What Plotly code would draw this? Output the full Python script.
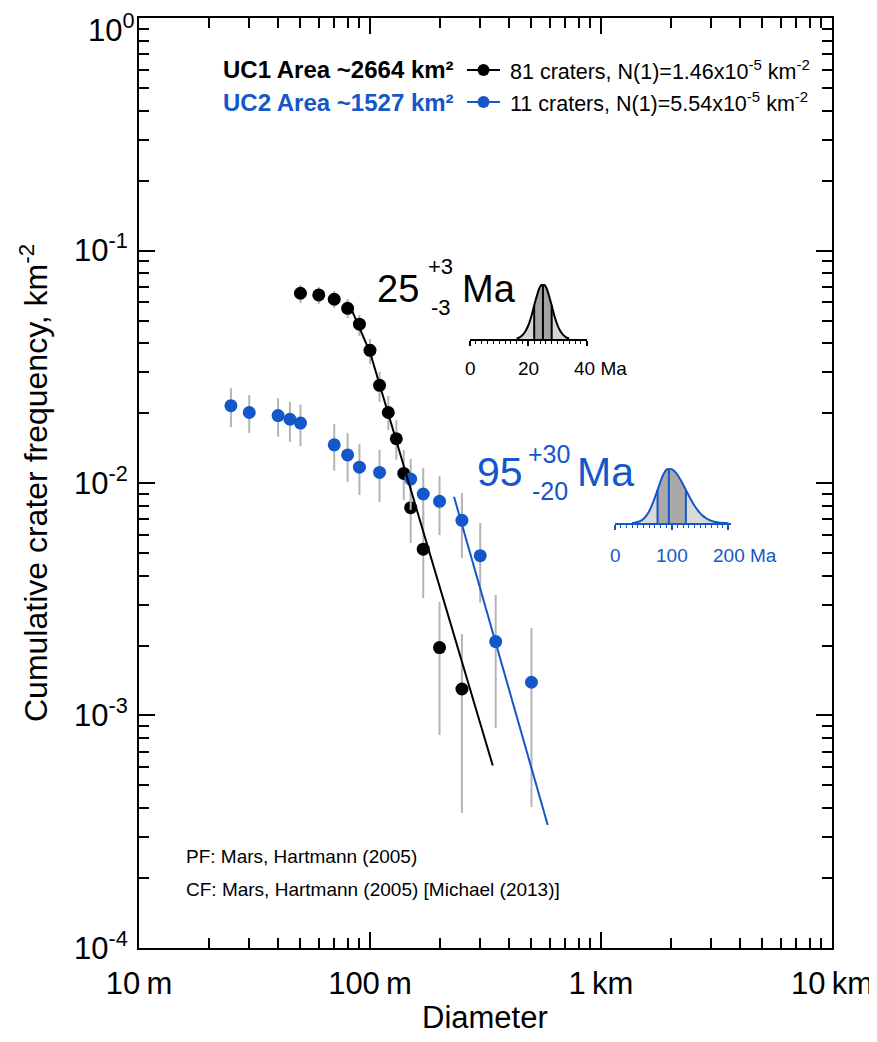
import plotly.graph_objects as go

# ---------------- data ----------------
# UC1 (black): diameter [km], cumulative frequency [km^-2], error bar upper/lower
uc1_d = [0.05, 0.06, 0.07, 0.08, 0.09, 0.10, 0.11, 0.12, 0.13, 0.14, 0.15, 0.17, 0.20, 0.25]
uc1_n = [0.0655, 0.0644, 0.0617, 0.0564, 0.0482, 0.0372, 0.0263, 0.0201, 0.0155, 0.0110,
         0.00783, 0.00519, 0.00196, 0.00130]
uc1_hi = [0.0711, 0.0697, 0.0669, 0.0619, 0.0528, 0.0416, 0.0300, 0.0237, 0.0187, 0.0139,
          0.0103, 0.00750, 0.00308, 0.00224]
uc1_lo = [0.0594, 0.0589, 0.0566, 0.0513, 0.0429, 0.0325, 0.0223, 0.0169, 0.0126, 0.00845,
          0.00552, 0.00320, 0.000824, 0.000381]

# UC2 (blue)
uc2_d = [0.025, 0.03, 0.04, 0.045, 0.05, 0.07, 0.08, 0.09, 0.11, 0.15, 0.17, 0.20, 0.25, 0.30, 0.35, 0.50]
uc2_n = [0.0215, 0.0201, 0.0195, 0.0188, 0.0181, 0.0146, 0.0132, 0.0117, 0.0111, 0.0104,
         0.00897, 0.00834, 0.00691, 0.00487, 0.00208, 0.00139]
uc2_hi = [0.0256, 0.0239, 0.0232, 0.0223, 0.0217, 0.0179, 0.0164, 0.0147, 0.0139, 0.0127,
          0.0116, 0.0107, 0.00906, 0.00673, 0.00330, 0.00238]
uc2_lo = [0.0174, 0.0164, 0.0158, 0.0150, 0.0144, 0.0113, 0.0101, 0.00888, 0.00829, 0.00766,
          0.00640, 0.00597, 0.00476, 0.00305, 0.000884, 0.000404]

# isochron fits
uc1_fit_d = [0.082, 0.10, 0.34]
uc1_fit_n = [0.0577, 0.0365, 0.000609]
uc2_fit_d = [0.231, 0.588]
uc2_fit_n = [0.00873, 0.000338]

# age probability curves (relative)
uc1_age = [16, 17, 18, 19, 20, 21, 22, 23, 24, 25, 26, 27, 28, 29, 30, 31, 32, 33, 34]
uc1_pdf = [0.01, 0.03, 0.07, 0.14, 0.25, 0.41, 0.61, 0.80, 0.95, 1.0, 0.95, 0.80, 0.61, 0.41,
           0.25, 0.14, 0.07, 0.03, 0.01]
uc1_marks = [22, 25, 28]
uc1_marks_h = [0.61, 1.0, 0.61]

uc2_age = [30, 35, 40, 45, 50, 55, 60, 65, 70, 75, 80, 85, 90, 95, 100, 105, 110, 115, 120, 125,
           130, 135, 140, 145, 150, 155, 160, 165, 170, 175, 180, 185, 190, 195, 200]
uc2_pdf = [0.005, 0.011, 0.023, 0.044, 0.08, 0.135, 0.216, 0.325, 0.458, 0.607, 0.755, 0.882,
           0.969, 1.0, 0.986, 0.946, 0.882, 0.80, 0.707, 0.607, 0.506, 0.411, 0.325, 0.249,
           0.186, 0.135, 0.096, 0.066, 0.044, 0.029, 0.018, 0.011, 0.007, 0.004, 0.002]
uc2_marks = [75, 95, 125]
uc2_marks_h = [0.607, 1.0, 0.607]

x_tickvals = [0.01, 0.1, 1, 10]
x_ticktext = ["10\u2009m", "100\u2009m", "1\u2009km", "10\u2009km"]
y_tickvals = [1e-4, 1e-3, 1e-2, 1e-1, 1]
y_ticktext = ["10<sup>-4</sup>", "10<sup>-3</sup>", "10<sup>-2</sup>", "10<sup>-1</sup>", "10<sup>0</sup>"]

uc1_inset_ticks = [0, 20, 40]
uc1_inset_text = ["0", "20", "40 Ma"]
uc2_inset_ticks = [0, 100, 200]
uc2_inset_text = ["0", "100", "200 Ma"]

BLUE = "#1457C8"
GRAY = "#b4b4b4"
FONT = "Liberation Sans, Arial, Helvetica, sans-serif"

# page geometry (the html body adds an 8 px margin around the figure div)
BODY = 8
PAGE_W, PAGE_H = 877, 1042
W, H = PAGE_W - BODY, PAGE_H - BODY
PLOT_L, PLOT_R, PLOT_T, PLOT_B = 139, 832, 18, 948      # plot frame in page pixels
L, T = PLOT_L - BODY, PLOT_T - BODY
R, B = PAGE_W - PLOT_R, PAGE_H - PLOT_B
PW, PH = PLOT_R - PLOT_L, PLOT_B - PLOT_T


def px(x):
    return (x - PLOT_L) / PW


def py(y):
    return (PLOT_B - y) / PH


fig = go.Figure()

# error bars + points
for d, n, hi, lo, col in [(uc1_d, uc1_n, uc1_hi, uc1_lo, "black"),
                          (uc2_d, uc2_n, uc2_hi, uc2_lo, BLUE)]:
    fig.add_trace(go.Scatter(
        x=d, y=n, mode="markers",
        marker=dict(size=13, color=col, line=dict(width=0)),
        error_y=dict(type="data", symmetric=False,
                     array=[h - v for h, v in zip(hi, n)],
                     arrayminus=[v - l for l, v in zip(lo, n)],
                     color=GRAY, thickness=2, width=0),
        hoverinfo="skip"))

fig.add_trace(go.Scatter(x=uc1_fit_d, y=uc1_fit_n, mode="lines",
                         line=dict(color="black", width=2), hoverinfo="skip"))
fig.add_trace(go.Scatter(x=uc2_fit_d, y=uc2_fit_n, mode="lines",
                         line=dict(color=BLUE, width=2), hoverinfo="skip"))


# insets
def inset(age, pdf, marks, marks_h, lo, hi, col, light, dark, xa, ya):
    fig.add_trace(go.Scatter(x=age, y=pdf, xaxis=xa, yaxis=ya, mode="lines",
                             line=dict(color="rgba(0,0,0,0)", width=0, shape="spline"),
                             fill="tozeroy", fillcolor=light, hoverinfo="skip"))
    sa = [a for a in age if lo <= a <= hi]
    sp = [p for a, p in zip(age, pdf) if lo <= a <= hi]
    fig.add_trace(go.Scatter(x=sa, y=sp, xaxis=xa, yaxis=ya, mode="lines",
                             line=dict(color="rgba(0,0,0,0)", width=0, shape="spline"),
                             fill="tozeroy", fillcolor=dark, hoverinfo="skip"))
    vx, vy = [], []
    for m, h in zip(marks, marks_h):
        vx += [m, m, None]
        vy += [0, h, None]
    fig.add_trace(go.Scatter(x=vx, y=vy, xaxis=xa, yaxis=ya, mode="lines",
                             line=dict(color=col, width=2), hoverinfo="skip"))
    fig.add_trace(go.Scatter(x=age, y=pdf, xaxis=xa, yaxis=ya, mode="lines",
                             line=dict(color=col, width=2, shape="spline"), hoverinfo="skip"))


inset(uc1_age, uc1_pdf, uc1_marks, uc1_marks_h, uc1_marks[0], uc1_marks[-1],
      "black", "#d6d6d6", "#a3a3a3", "x2", "y2")
inset(uc2_age, uc2_pdf, uc2_marks, uc2_marks_h, uc2_marks[0], uc2_marks[-1],
      BLUE, "#d9d9d9", "#a9a9a9", "x3", "y3")

minor_x = [m * 10 ** e for e in (-2, -1, 0) for m in range(2, 10)]
minor_y = [m * 10 ** e for e in (-4, -3, -2, -1) for m in range(2, 10)]

axis_common = dict(type="log", showgrid=False, zeroline=False, showline=True, linewidth=2,
                   linecolor="black", mirror="ticks", ticks="inside", tickwidth=1.5,
                   tickcolor="black", ticklen=16, automargin=False, ticklabeloverflow="allow",
                   tickfont=dict(family=FONT, size=31, color="black"))

inset_x = dict(showgrid=False, zeroline=False, showline=True, linewidth=2,
               ticks="outside", ticklen=5, tickwidth=1.5, showticklabels=False,
               automargin=False)

# the topmost y label sits at the page edge: draw it as an annotation nudged down
y_axis_text = [t if v != y_tickvals[-1] else "" for v, t in zip(y_tickvals, y_ticktext)]

fig.update_layout(
    width=W, height=H, margin=dict(l=L, r=R, t=T, b=B, autoexpand=False),
    paper_bgcolor="white", plot_bgcolor="white", showlegend=False,
    font=dict(family=FONT, color="black"),
    xaxis=dict(**axis_common, range=[-2.0001, 1.0001], tickvals=x_tickvals,
               ticktext=x_ticktext, ticklabelstandoff=7,
               minor=dict(tickvals=minor_x, ticks="inside", ticklen=10, tickwidth=1.5,
                          tickcolor="black")),
    yaxis=dict(**axis_common, range=[-4.0001, 0.0001], tickvals=y_tickvals, ticktext=y_axis_text,
               ticklabelstandoff=3,
               minor=dict(tickvals=minor_y, ticks="inside", ticklen=10, tickwidth=1.5,
                          tickcolor="black")),
    xaxis2=dict(**inset_x, domain=[px(470), px(586.7)], range=[0, 40], anchor="y2",
                linecolor="black", tickcolor="black", tickvals=uc1_inset_ticks,
                minor=dict(dtick=2, ticks="outside", ticklen=3, tickwidth=1.2, tickcolor="black")),
    yaxis2=dict(domain=[py(339), py(284)], range=[0, 1.0], anchor="x2", visible=False),
    xaxis3=dict(**inset_x, domain=[px(615), px(730.7)], range=[0, 204], anchor="y3",
                linecolor=BLUE, tickcolor=BLUE, tickvals=uc2_inset_ticks,
                minor=dict(dtick=10, ticks="outside", ticklen=3, tickwidth=1.2, tickcolor=BLUE)),
    yaxis3=dict(domain=[py(523.3), py(468.3)], range=[0, 1.0], anchor="x3", visible=False),
)

anns = []


def ann(text, x, y, size, color="black", xanchor="left", yanchor="middle", angle=0):
    anns.append(dict(text=text, x=px(x), y=py(y), xref="paper", yref="paper",
                     xanchor=xanchor, yanchor=yanchor, showarrow=False, textangle=angle,
                     font=dict(family=FONT, size=size, color=color)))


# top y tick label
ann(y_ticktext[-1], 137, 28, 31, xanchor="right")

# inset tick labels, placed on the inset axes' data coordinates
for ticks, texts, xr, yy, col, shift in [(uc1_inset_ticks, uc1_inset_text, "x2", 368, "black", -15),
                                          (uc2_inset_ticks, uc2_inset_text, "x3", 555, BLUE, -17)]:
    for v, t in zip(ticks, texts):
        last = v == ticks[-1]
        anns.append(dict(text=t, x=v, xref=xr, y=py(yy), yref="paper",
                         xanchor="left" if last else "center", yanchor="middle",
                         xshift=shift if last else 0, showarrow=False,
                         font=dict(family=FONT, size=19, color=col)))

# axis titles
ann("Cumulative crater frequency, km<sup>-2</sup>", 34, 483, 32, xanchor="center", angle=-90)
ann("Diameter", 485, 1018, 31, xanchor="center")

# legend
ann("<b>UC1 Area ~2664 km²</b>", 221, 70, 24)
ann("81 craters, N(1)=1.46x10<sup>-5</sup> km<sup>-2</sup>", 508, 70, 21.5)
ann("<b>UC2 Area ~1527 km²</b>", 221, 102, 24, color=BLUE)
ann("11 craters, N(1)=5.54x10<sup>-5</sup> km<sup>-2</sup>", 508, 102, 21.5)

shapes = []
for yy, col in [(70, "black"), (102, BLUE)]:
    shapes.append(dict(type="line", xref="paper", yref="paper", x0=px(467), x1=px(500),
                       y0=py(yy), y1=py(yy), line=dict(color=col, width=2)))
    shapes.append(dict(type="circle", xref="paper", yref="paper", xsizemode="pixel",
                       ysizemode="pixel", xanchor=px(483.5), yanchor=py(yy),
                       x0=-6, x1=6, y0=-6, y1=6, fillcolor=col, line=dict(width=0)))

# ages
ann("25", 375, 289, 38)
ann("+3", 426, 266, 22)
ann("-3", 429, 307, 22)
ann("Ma", 460, 289, 38)
ann("95", 475, 472, 41, color=BLUE)
ann("+30", 526, 454, 25, color=BLUE)
ann("-20", 530, 491, 25, color=BLUE)
ann("Ma", 575, 472, 41, color=BLUE)

# production / chronology function
ann("PF: Mars, Hartmann (2005)", 184, 856, 19)
ann("CF: Mars, Hartmann (2005) [Michael (2013)]", 184, 889, 19)

fig.update_layout(annotations=anns, shapes=shapes)
fig.write_html("out.html")
